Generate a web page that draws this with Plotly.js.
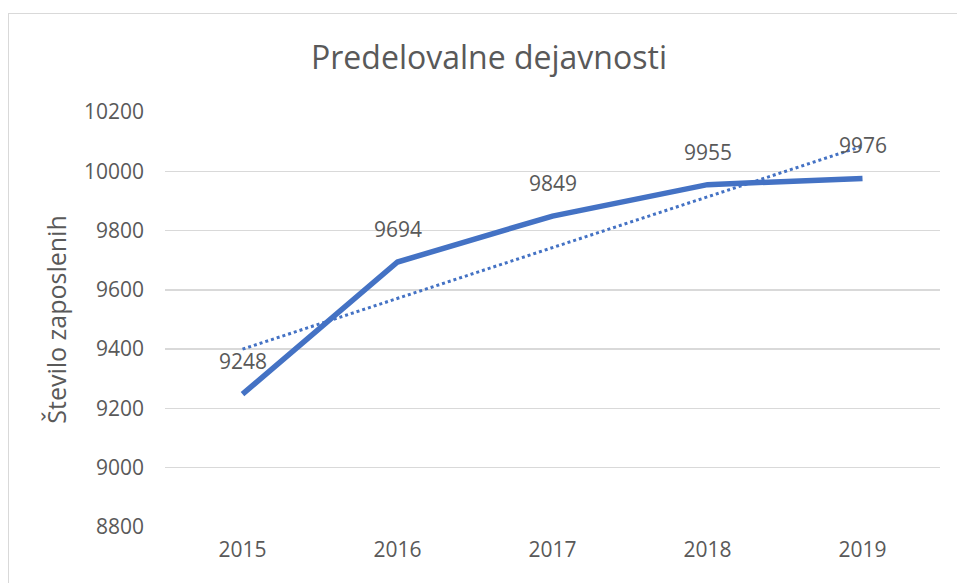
<!DOCTYPE html>
<html>
<head>
<meta charset="utf-8">
<script src="https://cdn.plot.ly/plotly-3.0.1.min.js"></script>
<style>
  html, body { margin: 0; padding: 0; background: #fff; overflow: hidden; }
  #frame { position: absolute; left: 8px; top: 13px; width: 960px; height: 600px; border: 1px solid #d9d9d9; box-sizing: border-box; }
  #chart { position: absolute; left: 0; top: 0; width: 957px; height: 583px; }
</style>
</head>
<body>
<div id="frame"></div>
<div id="chart"></div>
<script>
const years = ["2015", "2016", "2017", "2018", "2019"];
const employees = [9248, 9694, 9849, 9955, 9976];
const trendYears = ["2015", "2019"];
const trendValues = [9400, 10085];
const yTicks = [8800, 9000, 9200, 9400, 9600, 9800, 10000, 10200];

const blue = "#4472C4";
const gray = "#595959";
const fontFam = "Open Sans, Liberation Sans, sans-serif";

const traces = [
  {
    x: years, y: employees, type: "scatter", mode: "lines",
    line: { color: blue, width: 5.5 }, hoverinfo: "skip", showlegend: false
  },
  {
    x: trendYears, y: trendValues, type: "scatter", mode: "lines",
    line: { color: blue, width: 3, dash: "dot" }, hoverinfo: "skip", showlegend: false
  }
];

const annotations = years.map((yr, i) => ({
  x: i, y: employees[i], xref: "x", yref: "y",
  text: String(employees[i]), showarrow: false, yshift: 33,
  font: { family: fontFam, size: 21, color: gray }
}));

const layout = {
  width: 957, height: 583,
  paper_bgcolor: "rgba(0,0,0,0)", plot_bgcolor: "rgba(0,0,0,0)",
  margin: { l: 165, r: 17, t: 112, b: 56 },
  title: {
    text: "Predelovalne dejavnosti",
    font: { family: fontFam, size: 32, color: gray },
    xref: "container", x: 489 / 957, xanchor: "center",
    yref: "container", y: 1 - 58 / 583, yanchor: "middle"
  },
  xaxis: {
    type: "category", range: [-0.5, 4.5],
    showgrid: false, zeroline: false, showline: false, ticks: "",
    tickfont: { family: fontFam, size: 21, color: gray }, ticklabelstandoff: 8
  },
  yaxis: {
    range: [8800, 10200], tickvals: yTicks, ticktext: yTicks.map(String),
    showgrid: true, gridcolor: "#d9d9d9", gridwidth: 1.3,
    zeroline: false, showline: false, ticks: "",
    tickfont: { family: fontFam, size: 21, color: gray }, ticklabelstandoff: 20,
    title: { text: "Število zaposlenih", font: { family: fontFam, size: 25, color: gray }, standoff: 10 }
  },
  annotations: annotations
};

Plotly.newPlot("chart", traces, layout, { displayModeBar: false, staticPlot: true });
</script>
</body>
</html>
